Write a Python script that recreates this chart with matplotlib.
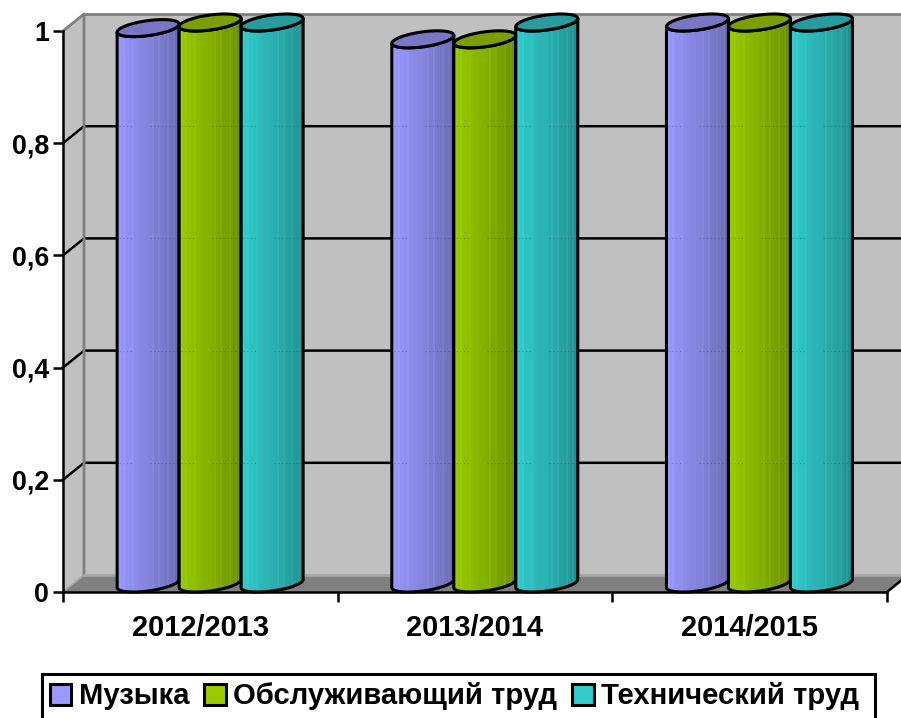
#!/usr/bin/env python3
"""3D-style cylinder column chart, drawn by hand on a flat matplotlib axes."""
import numpy as np
import matplotlib
matplotlib.use('Agg')
import matplotlib.pyplot as plt
from matplotlib.patches import Patch, PathPatch, Polygon, Rectangle
from matplotlib.path import Path

plt.rcParams['font.family'] = ['Liberation Sans', 'DejaVu Sans']
plt.rcParams['font.weight'] = 'bold'

years = ['2012/2013', '2013/2014', '2014/2015']
series_names = ['Музыка', 'Обслуживающий труд', 'Технический труд']
music = [0.99, 0.97, 1.0]
service = [1.0, 0.97, 1.0]
tech = [1.0, 1.0, 1.0]
y_ticks = [0, 0.2, 0.4, 0.6, 0.8, 1.0]
y_labels = ['0', '0,2', '0,4', '0,6', '0,8', '1']

side_colors = ['#9999FF', '#99CC00', '#33CCCC']
top_colors = ['#7777C4', '#7A9F00', '#289C9C']
# column shading, left to right, with the thin light stripes of the original
shade = [1.0, 1.0, 0.98, 1.0, 0.96, 0.95, 0.94, 0.95, 0.92, 0.91, 0.90, 0.89, 0.88, 0.88, 0.87,
         0.86, 0.85, 0.88, 0.83, 0.82, 0.85, 0.80, 0.79, 0.78, 0.81, 0.76, 0.74, 0.77, 0.71, 0.68]

W, H = 901, 718
X0, X1, Y0, Y1 = 63, 887, 592, 31   # front plane in pixels
SX = (X1 - X0) / 3.0                # px per category
SY = float(Y0 - Y1)                 # px per unit
DEPTH_X, DEPTH_Y = 21 / SX, 17 / SY
BAR_W = 62 / SX
FONT = 20.9
EDGE = 2.2


def cap_xy(cx, cy, t):
    # point on the slanted ellipse of the cylinder cap, in data units
    a = BAR_W / 2
    x = cx + a * np.cos(t)
    y = cy + (7.5 * np.sin(t) + 0.13 * a * SX * np.cos(t)) / SY
    return x, y


def draw_cylinder(ax, cx, value, color, top_color, z):
    base = 8.5 / SY
    a = BAR_W / 2
    # body outline: lower half of bottom ellipse, then back along lower half of top
    bx, by = cap_xy(cx, base, np.linspace(np.pi, 2 * np.pi, 40))
    tx, ty = cap_xy(cx, value + base, np.linspace(0, -np.pi, 40))
    pts = np.column_stack([np.r_[bx, tx], np.r_[by, ty]])
    outline = Path(np.vstack([pts, pts[0]]), closed=True)
    ax.add_patch(PathPatch(outline, fc='none', ec='black', lw=EDGE, zorder=z + 0.2, clip_on=False))

    rgb = np.array(matplotlib.colors.to_rgb(color))
    grad = (np.array(shade)[:, None] * rgb)[None, :, :]
    im = ax.imshow(grad, extent=[cx - a, cx + a, 0, 1.1], aspect='auto',
                   interpolation='nearest', zorder=z, origin='lower')
    im.set_clip_box(ax.figure.bbox)
    im.set_clip_path(PathPatch(outline, transform=ax.transData))

    # gridlines faintly dot through the columns
    for v in y_ticks[1:-1]:
        for p0, p1 in [(2, 15), (33, 60)]:
            ax.plot([cx - a + p0 / SX, cx - a + p1 / SX], [v + DEPTH_Y, v + DEPTH_Y],
                    color='#333333', lw=0.9, alpha=0.3, ls=(0, (1, 2)), zorder=z + 0.1)

    ex, ey = cap_xy(cx, value + base, np.linspace(0, 2 * np.pi, 60))
    ax.add_patch(Polygon(np.column_stack([ex, ey]), closed=True, fc=top_color, ec='black',
                         lw=EDGE, zorder=z + 0.3, clip_on=False))


def draw_walls(ax):
    wall = '#C0C0C0'
    edge = '#808080'
    dx, dy = DEPTH_X, DEPTH_Y
    ax.add_patch(Polygon([(0, 0), (dx, dy), (dx, 1 + dy), (0, 1)], fc=wall, ec='none',
                         zorder=1, clip_on=False))
    ax.add_patch(Polygon([(dx, dy), (3 + dx, dy), (3 + dx, 1 + dy), (dx, 1 + dy)], fc=wall,
                         ec='none', zorder=1, clip_on=False))
    ax.add_patch(Polygon([(0, 0), (3, 0), (3 + dx, dy), (dx, dy)], fc='#808080', ec='none',
                         zorder=2, clip_on=False))
    for v in y_ticks[1:-1]:
        ax.plot([0, dx, 3 + dx], [v, v + dy, v + dy], color='black', lw=1.8, zorder=3,
                clip_on=False)
    ax.plot([0, dx, dx], [1, 1 + dy, dy], color=edge, lw=2.0, zorder=3, clip_on=False)
    ax.plot([dx, 3 + dx], [1 + dy, 1 + dy], color=edge, lw=2.0, zorder=3, clip_on=False)
    ax.plot([dx, 3 + dx], [dy, dy], color='#A6A6A6', lw=2.0, zorder=3, clip_on=False)
    ax.plot([0, dx], [0, dy], color='#A6A6A6', lw=1.2, zorder=3, clip_on=False)
    ax.plot([3, 3 + dx], [0, dy], color='black', lw=1.8, zorder=3, clip_on=False)


def main():
    fig = plt.figure(figsize=(W / 100, H / 100), dpi=100)
    ax = fig.add_axes([X0 / W, 1 - Y0 / H, (X1 - X0) / W, (Y0 - Y1) / H])
    ax.patch.set_visible(False)
    ax.set_xlim(0, 3)
    ax.set_ylim(0, 1)

    draw_walls(ax)

    # columns go left to right, so each one sits over the previous outline
    z = 4
    group_shift = 9.8 / SX
    for i in range(len(years)):
        for j, vals in enumerate([music, service, tech]):
            cx = i + 0.5 + group_shift + (j - 1) * BAR_W
            draw_cylinder(ax, cx, vals[i], side_colors[j], top_colors[j], z)
            z += 1
    ax.set_xlim(0, 3)
    ax.set_ylim(0, 1)

    for s in ['top', 'right']:
        ax.spines[s].set_visible(False)
    for s in ['left', 'bottom']:
        ax.spines[s].set_linewidth(1.8)
        ax.spines[s].set_zorder(50)

    ax.set_yticks(y_ticks)
    ax.set_yticklabels(y_labels, fontsize=19.3, fontweight='bold')
    ax.set_xticks([0, 1, 2, 3])
    ax.set_xticklabels([])
    ax.set_xticks([0.5, 1.5, 2.5], labels=years, minor=True, fontsize=FONT, fontweight='bold')
    ax.tick_params(axis='y', length=7, width=1.8, pad=3)
    ax.tick_params(axis='x', which='major', length=7, width=1.8)
    ax.tick_params(axis='x', which='minor', length=0, pad=16)

    # the legend box runs off the bottom of the image, so its frame is a separate patch
    fig.add_artist(Rectangle((42 / W, 1 - 725 / H), 833 / W, 51.5 / H, transform=fig.transFigure,
                             fc='white', ec='black', lw=EDGE, zorder=1))
    handles = [Patch(fc=c, ec='black', lw=EDGE) for c in side_colors]
    fig.legend(handles, series_names, loc='center',
               bbox_to_anchor=(454.5 / W, 1 - 696.5 / H),
               ncol=3, fontsize=21.1, frameon=False,
               handlelength=0.72, handleheight=0.72,
               handletextpad=0.26, columnspacing=0.52, borderpad=0, borderaxespad=0)

    fig.savefig('out.png', dpi=100)
    plt.close(fig)


if __name__ == '__main__':
    main()
